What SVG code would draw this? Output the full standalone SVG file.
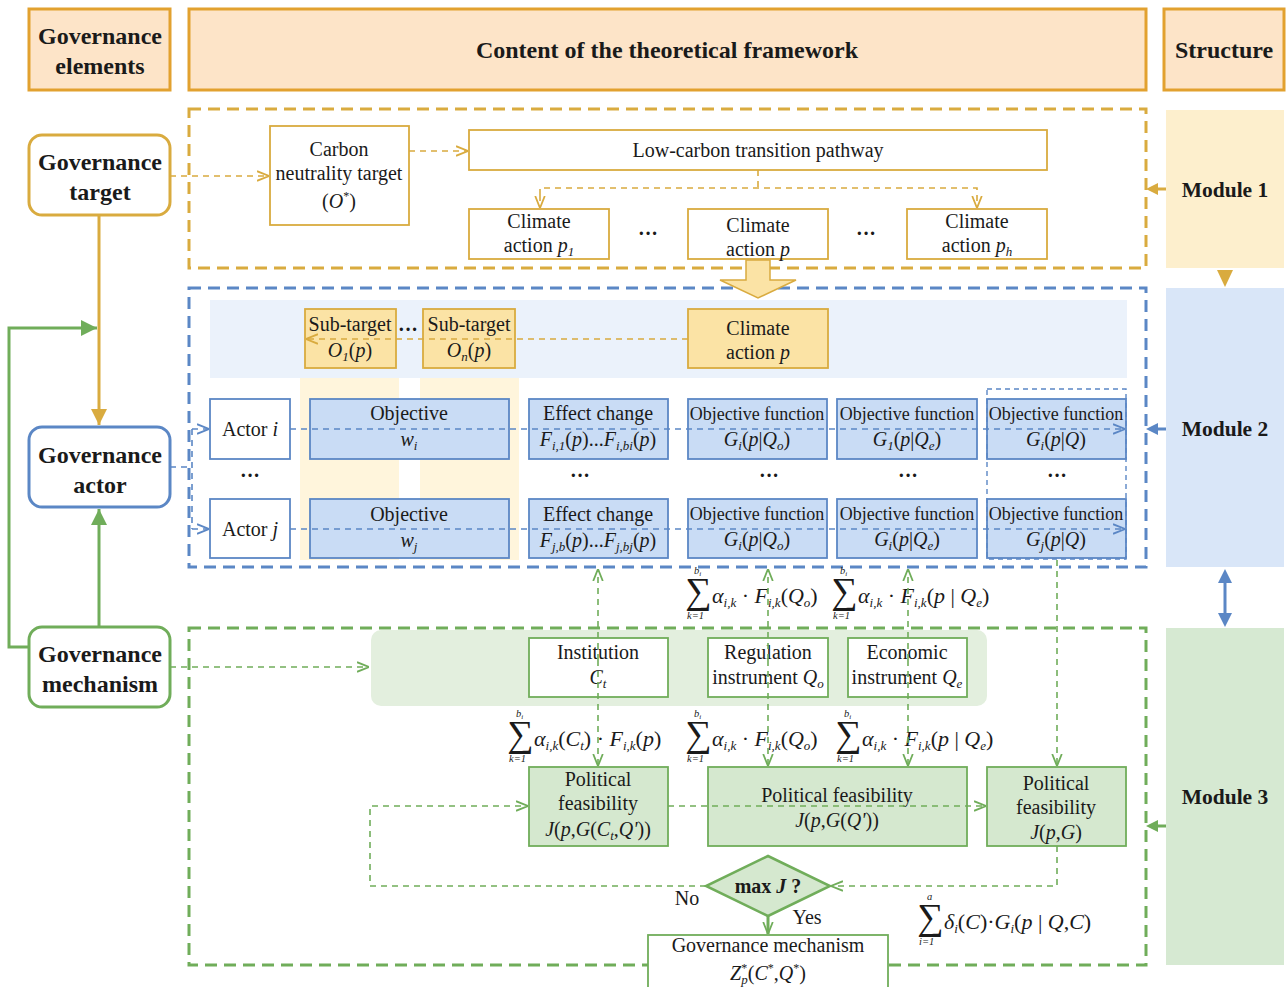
<svg xmlns="http://www.w3.org/2000/svg" width="1287" height="987" viewBox="0 0 1287 987">
<style>
text{font-family:"Liberation Serif","Times New Roman",serif;fill:#1a1a1a;}
.t{font-size:20px;text-anchor:middle;}
.ts{font-size:18px;text-anchor:middle;}
.hb{font-size:24px;font-weight:bold;text-anchor:middle;}
.mb{font-size:21.5px;font-weight:bold;text-anchor:middle;}
.it{font-style:italic;}
.sub{font-size:13px;font-style:italic;}
.hdr{fill:#fde4c8;stroke:#e2a12f;stroke-width:3;}
.gold{stroke:#d9ab3f;}
.blue{stroke:#5b87c5;}
.green{stroke:#70ad5a;}
.node{stroke-width:1.8;fill:#fff;}
.big{stroke-width:3;fill:#fff;}
.mod{fill:none;stroke-width:3;stroke-dasharray:12 7;}
.dl{fill:none;stroke-width:1.6;stroke-dasharray:6 5;}
.sl{fill:none;stroke-width:3;}
.sig{font-size:37px;}
.lim{font-size:10.5px;font-style:italic;}
.fm{font-size:22px;}
</style>
<defs>
<marker id="og" viewBox="0 0 10 10" refX="10" refY="5" markerWidth="12" markerHeight="12" markerUnits="userSpaceOnUse" orient="auto"><path d="M0,1 L10,5 L0,9" fill="none" stroke="#d9ab3f" stroke-width="1.5"/></marker>
<marker id="ob" viewBox="0 0 10 10" refX="10" refY="5" markerWidth="12" markerHeight="12" markerUnits="userSpaceOnUse" orient="auto"><path d="M0,1 L10,5 L0,9" fill="none" stroke="#5b87c5" stroke-width="1.5"/></marker>
<marker id="ogr" viewBox="0 0 10 10" refX="10" refY="5" markerWidth="12" markerHeight="12" markerUnits="userSpaceOnUse" orient="auto"><path d="M0,1 L10,5 L0,9" fill="none" stroke="#70ad5a" stroke-width="1.5"/></marker>
<marker id="sg" viewBox="0 0 10 10" refX="10" refY="5" markerWidth="16" markerHeight="16" markerUnits="userSpaceOnUse" orient="auto"><path d="M0,0 L10,5 L0,10 z" fill="#d9ab3f"/></marker>
<marker id="sgr" viewBox="0 0 10 10" refX="10" refY="5" markerWidth="16" markerHeight="16" markerUnits="userSpaceOnUse" orient="auto"><path d="M0,0 L10,5 L0,10 z" fill="#70ad5a"/></marker>
</defs>

<!-- headers -->
<g id="hdr-elements"><rect class="hdr" x="29" y="9" width="141" height="81"/><text class="hb" x="100" y="44">Governance</text><text class="hb" x="100" y="74">elements</text></g>
<g id="hdr-content"><rect class="hdr" x="189" y="9" width="957" height="81"/><text class="hb" x="667" y="58">Content of the theoretical framework</text></g>
<g id="hdr-structure"><rect class="hdr" x="1164" y="9" width="120" height="81"/><text class="hb" x="1224" y="58">Structure</text></g>

<!-- backgrounds -->
<g id="bands">
<rect x="210" y="300" width="917" height="78" fill="#ebf2fb"/>
<rect x="300" y="378" width="99" height="182" fill="#fff5dc"/>
<rect x="420" y="378" width="99" height="182" fill="#fff5dc"/>
<rect x="371" y="630" width="616" height="76" rx="10" fill="#e3efde"/>
</g>

<!-- module frames -->
<g id="module1-frame"><rect class="mod gold" x="189" y="109" width="957" height="159"/></g>
<g id="module2-frame"><rect class="mod blue" x="189" y="288" width="957" height="279"/></g>
<g id="module3-frame"><rect class="mod green" x="189" y="628" width="957" height="337"/></g>

<!-- structure column -->
<g id="module1"><rect x="1166" y="110" width="118" height="158" fill="#fdefcd"/><text class="mb" x="1225" y="197">Module 1</text></g>
<g id="module2"><rect x="1166" y="288" width="118" height="279" fill="#d9e6f8"/><text class="mb" x="1225" y="436">Module 2</text></g>
<g id="module3"><rect x="1166" y="628" width="118" height="337" fill="#d6e9d2"/><text class="mb" x="1225" y="804">Module 3</text></g>

<!-- governance elements -->
<g id="gov-target"><rect class="big gold" x="29" y="135" width="141" height="80" rx="13"/><text class="hb" x="100" y="170">Governance</text><text class="hb" x="100" y="200">target</text></g>
<g id="gov-actor"><rect class="big blue" x="29" y="427" width="141" height="80" rx="13"/><text class="hb" x="100" y="463">Governance</text><text class="hb" x="100" y="493">actor</text></g>
<g id="gov-mechanism"><rect class="big green" x="29" y="627" width="141" height="80" rx="13"/><text class="hb" x="100" y="662">Governance</text><text class="hb" x="100" y="692">mechanism</text></g>

<!-- module 1 nodes -->
<g id="carbon-target"><rect class="node gold" x="270" y="126" width="139" height="99"/><text class="t" x="339" y="156">Carbon</text><text class="t" x="339" y="180">neutrality target</text><text class="t" x="339" y="208">(<tspan class="it">O</tspan><tspan font-size="12" dy="-8">*</tspan><tspan dy="8">)</tspan></text></g>
<g id="pathway"><rect class="node gold" x="469" y="130" width="578" height="40"/><text class="t" x="758" y="157">Low-carbon transition pathway</text></g>
<g id="action-p1"><rect class="node gold" x="469" y="209" width="140" height="50"/><text class="t" x="539" y="228">Climate</text><text class="t" x="539" y="252">action <tspan class="it">p</tspan><tspan class="sub" dy="4">1</tspan></text></g>
<g id="action-p"><rect class="node gold" x="688" y="209" width="140" height="50"/><text class="t" x="758" y="232">Climate</text><text class="t" x="758" y="256">action <tspan class="it">p</tspan></text></g>
<g id="action-ph"><rect class="node gold" x="907" y="209" width="140" height="50"/><text class="t" x="977" y="228">Climate</text><text class="t" x="977" y="252">action <tspan class="it">p</tspan><tspan class="sub" dy="4">h</tspan></text></g>
<text class="t" x="648" y="240" font-weight="bold">···</text>
<text class="t" x="866" y="240" font-weight="bold">···</text>

<!-- module 2 nodes -->
<g id="subtarget-1"><rect x="305" y="309" width="91" height="59" fill="#fbe3a5" stroke="#d9ab3f" stroke-width="1.8"/><text class="t" x="350" y="331">Sub-target</text><text class="t" x="350" y="357"><tspan class="it">O</tspan><tspan class="sub" dy="4">1</tspan><tspan dy="-4">(</tspan><tspan class="it">p</tspan>)</text></g>
<text class="t" x="408" y="336" font-weight="bold">···</text>
<g id="subtarget-n"><rect x="423" y="309" width="92" height="59" fill="#fbe3a5" stroke="#d9ab3f" stroke-width="1.8"/><text class="t" x="469" y="331">Sub-target</text><text class="t" x="469" y="357"><tspan class="it">O</tspan><tspan class="sub" dy="4">n</tspan><tspan dy="-4">(</tspan><tspan class="it">p</tspan>)</text></g>
<g id="action-p-m2"><rect x="688" y="309" width="140" height="59" fill="#fbe3a5" stroke="#d9ab3f" stroke-width="1.8"/><text class="t" x="758" y="335">Climate</text><text class="t" x="758" y="359">action <tspan class="it">p</tspan></text></g>

<g id="actor-i"><rect class="node blue" x="210" y="399" width="80" height="60"/><text class="t" x="250" y="436">Actor <tspan class="it">i</tspan></text></g>
<g id="actor-j"><rect class="node blue" x="210" y="499" width="80" height="59"/><text class="t" x="250" y="536">Actor <tspan class="it">j</tspan></text></g>
<text class="t" x="250" y="482" font-weight="bold">···</text>

<g id="objective-i"><rect x="310" y="399" width="199" height="60" fill="#c9dcf5" stroke="#5b87c5" stroke-width="1.8"/><text class="t" x="409" y="420">Objective</text><text class="t" x="409" y="446"><tspan class="it">w</tspan><tspan class="sub" dy="4">i</tspan></text></g>
<g id="effect-i"><rect x="529" y="399" width="139" height="60" fill="#c9dcf5" stroke="#5b87c5" stroke-width="1.8"/><text class="t" x="598" y="420">Effect change</text><text class="t" x="598" y="446"><tspan class="it">F</tspan><tspan class="sub" dy="4">i,1</tspan><tspan dy="-4">(</tspan><tspan class="it">p</tspan>)...<tspan class="it">F</tspan><tspan class="sub" dy="4">i,bi</tspan><tspan dy="-4">(</tspan><tspan class="it">p</tspan>)</text></g>
<g id="objfun-i-o"><rect x="688" y="399" width="139" height="60" fill="#c9dcf5" stroke="#5b87c5" stroke-width="1.8"/><text class="ts" x="757" y="420">Objective function</text><text class="t" x="757" y="446"><tspan class="it">G</tspan><tspan class="sub" dy="4">i</tspan><tspan dy="-4">(</tspan><tspan class="it">p</tspan>|<tspan class="it">Q</tspan><tspan class="sub" dy="4">o</tspan><tspan dy="-4">)</tspan></text></g>
<g id="objfun-i-e"><rect x="837" y="399" width="140" height="60" fill="#c9dcf5" stroke="#5b87c5" stroke-width="1.8"/><text class="ts" x="907" y="420">Objective function</text><text class="t" x="907" y="446"><tspan class="it">G</tspan><tspan class="sub" dy="4">1</tspan><tspan dy="-4">(</tspan><tspan class="it">p</tspan>|<tspan class="it">Q</tspan><tspan class="sub" dy="4">e</tspan><tspan dy="-4">)</tspan></text></g>
<g id="objfun-i-q"><rect x="987" y="399" width="139" height="60" fill="#c9dcf5" stroke="#5b87c5" stroke-width="1.8"/><text class="ts" x="1056" y="420">Objective function</text><text class="t" x="1056" y="446"><tspan class="it">G</tspan><tspan class="sub" dy="4">i</tspan><tspan dy="-4">(</tspan><tspan class="it">p</tspan>|<tspan class="it">Q</tspan>)</text></g>

<text class="t" x="580" y="482" font-weight="bold">···</text>
<text class="t" x="769" y="482" font-weight="bold">···</text>
<text class="t" x="908" y="482" font-weight="bold">···</text>
<text class="t" x="1057" y="482" font-weight="bold">···</text>

<g id="objective-j"><rect x="310" y="499" width="199" height="59" fill="#c9dcf5" stroke="#5b87c5" stroke-width="1.8"/><text class="t" x="409" y="521">Objective</text><text class="t" x="409" y="547"><tspan class="it">w</tspan><tspan class="sub" dy="4">j</tspan></text></g>
<g id="effect-j"><rect x="529" y="499" width="139" height="59" fill="#c9dcf5" stroke="#5b87c5" stroke-width="1.8"/><text class="t" x="598" y="521">Effect change</text><text class="t" x="598" y="547"><tspan class="it">F</tspan><tspan class="sub" dy="4">j,b</tspan><tspan dy="-4">(</tspan><tspan class="it">p</tspan>)...<tspan class="it">F</tspan><tspan class="sub" dy="4">j,bj</tspan><tspan dy="-4">(</tspan><tspan class="it">p</tspan>)</text></g>
<g id="objfun-j-o"><rect x="688" y="499" width="139" height="59" fill="#c9dcf5" stroke="#5b87c5" stroke-width="1.8"/><text class="ts" x="757" y="520">Objective function</text><text class="t" x="757" y="546"><tspan class="it">G</tspan><tspan class="sub" dy="4">i</tspan><tspan dy="-4">(</tspan><tspan class="it">p</tspan>|<tspan class="it">Q</tspan><tspan class="sub" dy="4">o</tspan><tspan dy="-4">)</tspan></text></g>
<g id="objfun-j-e"><rect x="837" y="499" width="140" height="59" fill="#c9dcf5" stroke="#5b87c5" stroke-width="1.8"/><text class="ts" x="907" y="520">Objective function</text><text class="t" x="907" y="546"><tspan class="it">G</tspan><tspan class="sub" dy="4">i</tspan><tspan dy="-4">(</tspan><tspan class="it">p</tspan>|<tspan class="it">Q</tspan><tspan class="sub" dy="4">e</tspan><tspan dy="-4">)</tspan></text></g>
<g id="objfun-j-q"><rect x="987" y="499" width="139" height="59" fill="#c9dcf5" stroke="#5b87c5" stroke-width="1.8"/><text class="ts" x="1056" y="520">Objective function</text><text class="t" x="1056" y="546"><tspan class="it">G</tspan><tspan class="sub" dy="4">j</tspan><tspan dy="-4">(</tspan><tspan class="it">p</tspan>|<tspan class="it">Q</tspan>)</text></g>
<rect x="987" y="389" width="139" height="170" fill="none" stroke="#5b87c5" stroke-width="1.4" stroke-dasharray="5 4"/>

<!-- module 3 nodes -->
<g id="institution"><rect class="node green" x="529" y="638" width="139" height="59"/><text class="t" x="598" y="659">Institution</text><text class="t" x="598" y="684"><tspan class="it">C</tspan><tspan class="sub" dy="4">t</tspan></text></g>
<g id="regulation"><rect class="node green" x="708" y="638" width="120" height="59"/><text class="t" x="768" y="659">Regulation</text><text class="t" x="768" y="684">instrument <tspan class="it">Q</tspan><tspan class="sub" dy="4">o</tspan></text></g>
<g id="economic"><rect class="node green" x="848" y="638" width="119" height="59"/><text class="t" x="907" y="659">Economic</text><text class="t" x="907" y="684">instrument <tspan class="it">Q</tspan><tspan class="sub" dy="4">e</tspan></text></g>

<g id="pf-1"><rect x="529" y="767" width="139" height="79" fill="#d5e8cf" stroke="#70ad5a" stroke-width="1.8"/><text class="t" x="598" y="786">Political</text><text class="t" x="598" y="810">feasibility</text><text class="t" x="598" y="836"><tspan class="it">J</tspan>(<tspan class="it">p</tspan>,<tspan class="it">G</tspan>(<tspan class="it">C</tspan><tspan class="sub" dy="4">t</tspan><tspan dy="-4">,</tspan><tspan class="it">Q'</tspan>))</text></g>
<g id="pf-2"><rect x="708" y="767" width="259" height="79" fill="#d5e8cf" stroke="#70ad5a" stroke-width="1.8"/><text class="t" x="837" y="802">Political feasibility</text><text class="t" x="837" y="827"><tspan class="it">J</tspan>(<tspan class="it">p</tspan>,<tspan class="it">G</tspan>(<tspan class="it">Q'</tspan>))</text></g>
<g id="pf-3"><rect x="987" y="767" width="139" height="79" fill="#d5e8cf" stroke="#70ad5a" stroke-width="1.8"/><text class="t" x="1056" y="790">Political</text><text class="t" x="1056" y="814">feasibility</text><text class="t" x="1056" y="839"><tspan class="it">J</tspan>(<tspan class="it">p</tspan>,<tspan class="it">G</tspan>)</text></g>

<g id="decision"><polygon points="768,856 830,886 768,916 706,886" fill="#d5e8cf" stroke="#70ad5a" stroke-width="2.5"/><text class="t" x="768" y="893" font-weight="bold" font-size="21">max <tspan class="it">J</tspan> ?</text></g>
<text class="t" x="687" y="905">No</text>
<text class="t" x="807" y="924">Yes</text>

<g id="gov-mech-out"><rect class="node green" x="648" y="935" width="240" height="55"/><text class="t" x="768" y="952">Governance mechanism</text><text class="t" x="768" y="980"><tspan class="it">Z</tspan><tspan font-size="12" dy="-8">*</tspan><tspan class="sub" dy="12" dx="-6">p</tspan><tspan dy="-4">(</tspan><tspan class="it">C</tspan><tspan font-size="12" dy="-8">*</tspan><tspan dy="8">,</tspan><tspan class="it">Q</tspan><tspan font-size="12" dy="-8">*</tspan><tspan dy="8">)</tspan></text></g>

<!-- formulas -->
<g id="formulas">
<g transform="translate(685,603)"><text class="sig" x="0" y="0">∑</text><text class="lim" x="9" y="-29">b<tspan font-size="7" dy="2">i</tspan></text><text class="lim" x="2" y="16" font-style="normal">k=1</text><text class="fm" x="27" y="0"><tspan class="it">α</tspan><tspan class="sub" dy="4">i,k</tspan><tspan dy="-4"> · </tspan><tspan class="it">F</tspan><tspan class="sub" dy="4">i,k</tspan><tspan dy="-4">(</tspan><tspan class="it">Q</tspan><tspan class="sub" dy="4">o</tspan><tspan dy="-4">)</tspan></text></g>
<g transform="translate(831,603)"><text class="sig" x="0" y="0">∑</text><text class="lim" x="9" y="-29">b<tspan font-size="7" dy="2">i</tspan></text><text class="lim" x="2" y="16" font-style="normal">k=1</text><text class="fm" x="27" y="0"><tspan class="it">α</tspan><tspan class="sub" dy="4">i,k</tspan><tspan dy="-4"> · </tspan><tspan class="it">F</tspan><tspan class="sub" dy="4">i,k</tspan><tspan dy="-4">(</tspan><tspan class="it">p</tspan> | <tspan class="it">Q</tspan><tspan class="sub" dy="4">e</tspan><tspan dy="-4">)</tspan></text></g>
<g transform="translate(507,746)"><text class="sig" x="0" y="0">∑</text><text class="lim" x="9" y="-29">b<tspan font-size="7" dy="2">i</tspan></text><text class="lim" x="2" y="16" font-style="normal">k=1</text><text class="fm" x="27" y="0"><tspan class="it">α</tspan><tspan class="sub" dy="4">i,k</tspan><tspan dy="-4">(</tspan><tspan class="it">C</tspan><tspan class="sub" dy="4">t</tspan><tspan dy="-4">) · </tspan><tspan class="it">F</tspan><tspan class="sub" dy="4">i,k</tspan><tspan dy="-4">(</tspan><tspan class="it">p</tspan>)</text></g>
<g transform="translate(685,746)"><text class="sig" x="0" y="0">∑</text><text class="lim" x="9" y="-29">b<tspan font-size="7" dy="2">i</tspan></text><text class="lim" x="2" y="16" font-style="normal">k=1</text><text class="fm" x="27" y="0"><tspan class="it">α</tspan><tspan class="sub" dy="4">i,k</tspan><tspan dy="-4"> · </tspan><tspan class="it">F</tspan><tspan class="sub" dy="4">i,k</tspan><tspan dy="-4">(</tspan><tspan class="it">Q</tspan><tspan class="sub" dy="4">o</tspan><tspan dy="-4">)</tspan></text></g>
<g transform="translate(835,746)"><text class="sig" x="0" y="0">∑</text><text class="lim" x="9" y="-29">b<tspan font-size="7" dy="2">i</tspan></text><text class="lim" x="2" y="16" font-style="normal">k=1</text><text class="fm" x="27" y="0"><tspan class="it">α</tspan><tspan class="sub" dy="4">i,k</tspan><tspan dy="-4"> · </tspan><tspan class="it">F</tspan><tspan class="sub" dy="4">i,k</tspan><tspan dy="-4">(</tspan><tspan class="it">p</tspan> | <tspan class="it">Q</tspan><tspan class="sub" dy="4">e</tspan><tspan dy="-4">)</tspan></text></g>
<g transform="translate(917,929)"><text class="sig" x="0" y="0">∑</text><text class="lim" x="10" y="-29">a</text><text class="lim" x="2" y="16" font-style="normal">i=1</text><text class="fm" x="27" y="0"><tspan class="it">δ</tspan><tspan class="sub" dy="4">i</tspan><tspan dy="-4">(</tspan><tspan class="it">C</tspan>)·<tspan class="it">G</tspan><tspan class="sub" dy="4">i</tspan><tspan dy="-4">(</tspan><tspan class="it">p</tspan> | <tspan class="it">Q</tspan>,<tspan class="it">C</tspan>)</text></g>
</g>

<!-- connectors -->
<g id="connectors">
<line class="sl gold" x1="99" y1="215" x2="99" y2="425" marker-end="url(#sg)"/>
<line class="sl green" x1="99" y1="627" x2="99" y2="509" marker-end="url(#sgr)"/>
<polyline class="sl green" points="29,647 9,647 9,328 97,328" marker-end="url(#sgr)"/>
<line class="dl gold" x1="170" y1="176" x2="269" y2="176" marker-end="url(#og)"/>
<line class="dl gold" x1="409" y1="151" x2="468" y2="151" marker-end="url(#og)"/>
<polyline class="dl gold" points="758,170 758,188"/>
<polyline class="dl gold" points="540,195 540,188 977,188 977,195"/>
<line x1="540" y1="195" x2="540" y2="208" class="dl gold" marker-end="url(#og)"/>
<line x1="977" y1="195" x2="977" y2="208" class="dl gold" marker-end="url(#og)"/>
<polygon points="746,260 770,260 770,280 796,280 758,298 720,280 746,280" fill="#fbe3a5" stroke="#d9ab3f" stroke-width="1.5"/>
<line class="dl gold" x1="688" y1="339" x2="306" y2="339" marker-end="url(#og)"/>
<polyline class="dl blue" points="170,467 192,467"/>
<line class="dl blue" x1="192" y1="429" x2="192" y2="529"/>
<line class="dl blue" x1="192" y1="429" x2="209" y2="429" marker-end="url(#ob)"/>
<line class="dl blue" x1="192" y1="529" x2="209" y2="529" marker-end="url(#ob)"/>
<line class="dl blue" x1="290" y1="429" x2="1125" y2="429" marker-end="url(#ob)"/>
<line class="dl blue" x1="290" y1="529" x2="1125" y2="529" marker-end="url(#ob)"/>
<line class="dl green" x1="170" y1="667" x2="369" y2="667" marker-end="url(#ogr)"/>
<line class="dl green" x1="598" y1="660" x2="598" y2="569" marker-end="url(#ogr)"/>
<line class="dl green" x1="598" y1="660" x2="598" y2="766" marker-end="url(#ogr)"/>
<line class="dl green" x1="768" y1="660" x2="768" y2="569" marker-end="url(#ogr)"/>
<line class="dl green" x1="768" y1="660" x2="768" y2="766" marker-end="url(#ogr)"/>
<line class="dl green" x1="908" y1="660" x2="908" y2="569" marker-end="url(#ogr)"/>
<line class="dl green" x1="908" y1="660" x2="908" y2="766" marker-end="url(#ogr)"/>
<line class="dl green" x1="1057" y1="560" x2="1057" y2="766" marker-end="url(#ogr)"/>
<polyline class="dl green" points="706,886 370,886 370,806 528,806" marker-end="url(#ogr)"/>
<line class="dl green" x1="668" y1="806" x2="986" y2="806" marker-end="url(#ogr)"/>
<polyline class="dl green" points="1057,846 1057,886 831,886" marker-end="url(#ogr)"/>
<line class="sl green" x1="768" y1="916" x2="768" y2="934" stroke-width="1.6" marker-end="url(#ogr)"/>
<line x1="1166" y1="189" x2="1156" y2="189" stroke="#d9ab3f" stroke-width="3"/>
<polygon points="1146,189 1158,183 1158,195" fill="#d9ab3f"/>
<polygon points="1217,270 1233,270 1225,287" fill="#d9ab3f"/>
<line x1="1166" y1="429" x2="1156" y2="429" stroke="#5b87c5" stroke-width="3"/>
<polygon points="1146,429 1158,423 1158,435" fill="#5b87c5"/>
<line x1="1225" y1="578" x2="1225" y2="618" stroke="#5b87c5" stroke-width="3"/>
<polygon points="1225,569 1232,583 1218,583" fill="#5b87c5"/>
<polygon points="1225,627 1232,613 1218,613" fill="#5b87c5"/>
<line x1="1166" y1="826" x2="1156" y2="826" stroke="#70ad5a" stroke-width="3"/>
<polygon points="1146,826 1158,820 1158,832" fill="#70ad5a"/>
</g>
</svg>
